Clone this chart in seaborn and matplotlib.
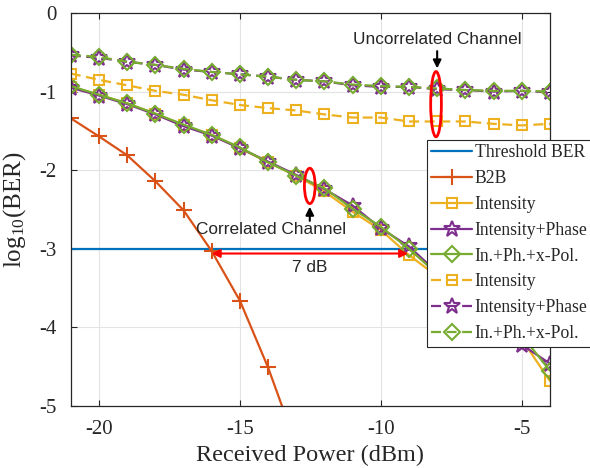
import matplotlib
matplotlib.use("Agg")
import matplotlib.pyplot as plt
from matplotlib.patches import Ellipse
import seaborn as sns

# Received optical power (dBm)
power = [-21, -20, -19, -18, -17, -16, -15, -14, -13, -12, -11, -10, -9, -8, -7, -6, -5, -4]
b2b_power = [-21, -20, -19, -18, -17, -16, -15, -14, -13]

# log10(BER) values
b2b = [-1.34, -1.57, -1.81, -2.14, -2.51, -3.03, -3.66, -4.51, -5.5]

int_corr = [-0.94, -1.04, -1.15, -1.28, -1.43, -1.55, -1.72, -1.90, -2.07,
            -2.27, -2.53, -2.76, -3.08, -3.35, -3.62, -3.83, -4.15, -4.68]
ip_corr = [-0.95, -1.05, -1.16, -1.29, -1.44, -1.56, -1.72, -1.89, -2.06,
           -2.24, -2.45, -2.74, -2.97, -3.30, -3.58, -3.86, -4.22, -4.46]
ipx_corr = [-0.93, -1.04, -1.15, -1.28, -1.42, -1.55, -1.71, -1.90, -2.07,
            -2.23, -2.49, -2.72, -3.00, -3.32, -3.60, -3.91, -4.10, -4.55]

int_unc = [-0.77, -0.85, -0.92, -0.99, -1.04, -1.11, -1.17, -1.21, -1.24,
           -1.29, -1.33, -1.33, -1.38, -1.38, -1.38, -1.41, -1.43, -1.41]
ip_unc = [-0.54, -0.57, -0.62, -0.66, -0.72, -0.75, -0.78, -0.81, -0.85,
          -0.87, -0.92, -0.94, -0.94, -0.97, -0.98, -1.00, -0.99, -1.01]
ipx_unc = [-0.53, -0.56, -0.62, -0.66, -0.71, -0.75, -0.78, -0.81, -0.85,
           -0.87, -0.91, -0.93, -0.94, -0.96, -0.98, -0.99, -0.99, -1.00]

threshold_x = [-21, -4]
threshold_y = [-3, -3]

labels = ["Threshold BER", "B2B", "Intensity", "Intensity+Phase", "In.+Ph.+x-Pol.",
          "Intensity", "Intensity+Phase", "In.+Ph.+x-Pol."]

BLUE, ORANGE, YELLOW, PURPLE, GREEN = "#0072BD", "#D95319", "#EDB120", "#7E2F8E", "#77AC30"

sns.set_style("ticks")
plt.rcParams["font.family"] = ["Liberation Serif", "DejaVu Serif"]
plt.rcParams["mathtext.fontset"] = "custom"
plt.rcParams["mathtext.rm"] = "Liberation Serif"
plt.rcParams["mathtext.it"] = "Liberation Serif:italic"
plt.rcParams["mathtext.default"] = "regular"
plt.rcParams["axes.unicode_minus"] = False

fig = plt.figure(figsize=(5.9, 4.68), dpi=100)
ax = fig.add_axes([0.12, 0.1325, 0.812, 0.8397])

lw = 1.6
dash = (0, (4.5, 2.5))


def series(x, y, color, marker=None, size=7, ls="-", label=None):
    kws = dict(ax=ax, color=color, lw=lw, linestyle=ls, label=label)
    if marker is not None:
        kws.update(marker=marker, markersize=size, markerfacecolor="none",
                   markeredgecolor=color, markeredgewidth=1.5)
    sns.lineplot(x=x, y=y, **kws)


series(threshold_x, threshold_y, BLUE, label=labels[0])
series(b2b_power, b2b, ORANGE, marker="+", size=11, label=labels[1])

series(power, int_corr, YELLOW, marker="s", size=7.5, label=labels[2])
series(power, ip_corr, PURPLE, marker="*", size=12, label=labels[3])
series(power, ipx_corr, GREEN, marker="D", size=8.5, label=labels[4])

series(power, int_unc, YELLOW, marker="s", size=7.5, ls=dash, label=labels[5])
series(power, ip_unc, PURPLE, marker="*", size=12, ls=dash, label=labels[6])
series(power, ipx_unc, GREEN, marker="D", size=8.5, ls=dash, label=labels[7])

ax.set_xlim(-21, -4)
ax.set_ylim(-5, 0)
ax.set_xticks([-20, -15, -10, -5])
ax.set_yticks([0, -1, -2, -3, -4, -5])
ax.grid(True, color="#e3e3e3", lw=0.8)
ax.set_axisbelow(True)
for s in ax.spines.values():
    s.set_visible(True)
    s.set_color("#262626")
    s.set_linewidth(0.9)
ax.tick_params(direction="in", top=True, right=True, labelsize=15, colors="#262626",
               length=4, width=0.8)
ax.tick_params(axis="y", pad=10)
ax.tick_params(axis="x", pad=10)
ax.set_xlabel("Received Power (dBm)", fontsize=17.5, color="#262626", labelpad=4)
ax.set_ylabel("log$_{10}$(BER)", fontsize=18, color="#262626", labelpad=8)

# Annotations
sans = ["Liberation Sans", "DejaVu Sans"]
fs_ann = 12.4
ax.text(-8.0, -0.34, "Uncorrelated Channel", family=sans, fontsize=fs_ann, ha="center", va="center")
ax.annotate("", xy=(-8.0, -0.74), xytext=(-8.0, -0.45),
            arrowprops=dict(arrowstyle="-|>", color="k", lw=1.5, mutation_scale=12))
ax.add_patch(Ellipse((-8.04, -1.16), 0.38, 0.83, fill=False, ec="red", lw=2, zorder=5))

ax.text(-13.88, -2.76, "Correlated Channel", family=sans, fontsize=fs_ann, ha="center", va="center")
ax.annotate("", xy=(-12.52, -2.43), xytext=(-12.52, -2.68),
            arrowprops=dict(arrowstyle="-|>", color="k", lw=1.5, mutation_scale=12))
ax.add_patch(Ellipse((-12.52, -2.20), 0.38, 0.45, fill=False, ec="red", lw=2, zorder=5))

ax.annotate("", xy=(-9.03, -3.06), xytext=(-16.0, -3.06),
            arrowprops=dict(arrowstyle="<|-|>", color="red", lw=1.5, mutation_scale=12,
                            shrinkA=0, shrinkB=0))
ax.text(-12.52, -3.24, "7 dB", family=sans, fontsize=fs_ann, ha="center", va="center")

leg = ax.legend(loc="upper left", bbox_to_anchor=(0.7237, 0.7009),
                bbox_transform=fig.transFigure, fontsize=12.7, frameon=True,
                fancybox=False, edgecolor="#262626", framealpha=1,
                handlelength=2.3, handletextpad=0.15, labelspacing=0.5,
                borderpad=0.25, borderaxespad=0)
leg.get_frame().set_linewidth(0.8)
leg.set_zorder(10)

fig.savefig("out.png", dpi=100)
